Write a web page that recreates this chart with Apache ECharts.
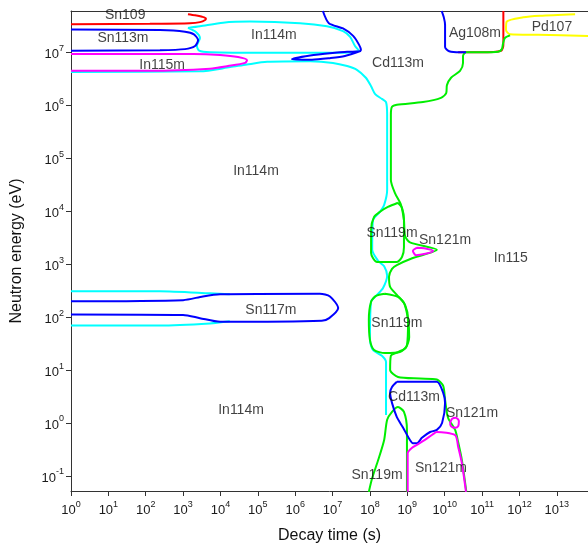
<!DOCTYPE html>
<html><head><meta charset="utf-8">
<script src="https://cdn.jsdelivr.net/npm/echarts@6/dist/echarts.min.js"></script>
<style>html,body{margin:0;padding:0;background:#fff}#c{width:588px;height:551px}</style>
</head><body><div id="c"></div>
<script>
// Every point: [log10(decay time / s), log10(neutron energy / eV)]
const xTickExp = [0,1,2,3,4,5,6,7,8,9,10,11,12,13];
const yTickExp = [-1,0,1,2,3,4,5,6,7];
const xRange = [0, 13.835];
const yRange = [-1.284, 7.78];

// ---- top band ----
const sn109Red = [[0,7.53],[2.11,7.54],[3.18,7.55],[3.45,7.57],[3.59,7.61],[3.61,7.64],[3.51,7.67],[3.32,7.70],[3.13,7.72]];
const sn113mBlue = [[0,7.43],[2.38,7.42],[3.05,7.39],[3.29,7.34],[3.40,7.23],[3.32,7.12],[3.05,7.06],[2.38,7.04],[0,7.03]];
const in115mMagenta = [[0,6.97],[3.27,6.97],[3.99,6.95],[4.47,6.91],[4.71,6.85],[4.66,6.80],[4.20,6.74],[3.72,6.69],[2.11,6.65],[0,6.65]];
const in114mUpperCyan = [[3.13,7.46],[3.45,7.49],[4.07,7.56],[4.79,7.58],[6.13,7.55],[6.85,7.49],[7.28,7.40],[7.47,7.29],[7.60,7.12],[7.71,7.03],[7.01,6.99],[5.25,6.99],[3.72,7.00],[3.43,7.03],[3.37,7.12],[3.45,7.27],[3.35,7.38],[3.13,7.46]];
const cd113mTopBlue = [[6.74,7.78],[6.90,7.55],[7.28,7.45],[7.55,7.31],[7.71,7.14],[7.76,7.04],[7.20,7.00],[6.40,6.94],[5.91,6.87],[6.45,6.86],[6.93,6.89],[7.33,6.93],[7.76,7.03]];
const in114mLowerCyan = [[0,6.63],[3.45,6.64],[4.26,6.72],[4.71,6.77],[5.25,6.82],[6.40,6.83],[7.01,6.80],[7.39,6.74],[7.65,6.67],[7.89,6.52],[8.03,6.36],[8.14,6.21],[8.32,6.12],[8.43,6.06],[8.46,5.82],[8.46,4.40],[8.38,4.12],[8.27,3.99],[8.08,3.83],[8.06,3.27],[8.22,3.06],[8.38,2.96],[8.46,2.78],[8.35,2.55],[8.19,2.42],[8.03,2.29],[8.00,1.57],[8.08,1.38],[8.32,1.27],[8.43,1.15],[8.43,0.15]];
const ag108mBlue = [[9.92,7.78],[9.98,7.65],[10.01,7.52],[10.01,7.10],[10.12,7.02],[10.41,7.00],[10.57,7.00]];
const ag108mRed = [[11.57,7.78],[11.57,7.14],[11.51,7.03],[10.95,7.00],[10.36,7.00]];
const pd107Yellow = [[13.49,7.72],[12.55,7.69],[12.10,7.66],[11.66,7.58],[11.64,7.42],[11.75,7.34],[12.50,7.33],[13.84,7.31]];

// ---- Sn117m ----
const sn117mBlue = [[0,2.30],[3.00,2.32],[3.53,2.39],[3.99,2.43],[6.66,2.44],[6.93,2.39],[7.15,2.17],[6.91,1.98],[6.71,1.93],[3.99,1.91],[3.45,1.98],[3.00,2.04],[0,2.05]];
const sn117mCyanTop = [[0,2.49],[2.38,2.49],[3.72,2.45],[4.25,2.43]];
const sn117mCyanBottom = [[0,1.84],[2.38,1.84],[3.72,1.88],[4.25,1.92]];

// ---- central green boundary (Sn119m / Sn121m) ----
const mainGreen = [[11.75,7.32],[11.61,7.27],[11.56,7.16],[11.53,7.06],[11.43,7.01],[10.95,7.00],[10.57,7.00],[10.49,6.93],[10.49,6.80],[10.41,6.65],[10.17,6.52],[10.06,6.38],[10.04,6.23],[9.90,6.14],[9.42,6.06],[8.72,6.01],[8.59,5.97],[8.56,5.82],[8.56,4.59],[8.67,4.34],[8.83,4.12],[8.91,3.83],[8.94,3.53],[9.07,3.41],[9.79,3.27],[9.13,3.11],[8.72,2.98],[8.59,2.91],[8.51,2.76],[8.54,2.57],[8.72,2.42],[8.91,2.27],[9.02,1.95],[9.05,1.62],[8.96,1.42],[8.75,1.34],[8.56,1.27],[8.54,1.00],[8.75,0.87],[9.34,0.84],[9.79,0.82],[9.96,0.70],[10.01,0.44],[10.09,0.10],[10.28,-0.13],[10.36,-0.36],[10.46,-0.70],[10.58,-1.30]];
const sn119mUpperGreen = [[8.75,4.16],[8.48,4.08],[8.27,3.99],[8.11,3.89],[8.03,3.65],[8.03,3.21],[8.19,3.04],[8.72,3.04],[8.86,3.14],[8.91,3.32],[8.91,3.83],[8.86,4.06],[8.75,4.16]];
const sn119mLowerGreen = [[8.40,2.44],[8.16,2.40],[8.03,2.29],[7.97,1.95],[8.00,1.57],[8.11,1.38],[8.40,1.32],[8.80,1.34],[8.99,1.47],[9.02,1.95],[8.94,2.23],[8.75,2.38],[8.40,2.44]];
const sn119mBottomGreen = [[7.97,-1.30],[8.06,-1.04],[8.22,-0.70],[8.38,-0.32],[8.46,0.06],[8.59,0.21],[8.75,0.30],[8.91,0.21],[8.99,-0.13],[8.99,-1.30]];

// ---- lower right ----
const cd113mLowerBlue = [[8.72,0.78],[9.79,0.78],[9.96,0.57],[10.01,0.38],[9.93,0.00],[9.79,-0.13],[9.61,-0.17],[9.39,-0.28],[9.26,-0.38],[9.15,-0.38],[9.07,-0.32],[8.88,-0.08],[8.72,0.11],[8.59,0.38],[8.54,0.57],[8.59,0.68],[8.72,0.78]];
const sn121mLowerMagenta = [[9.01,-1.30],[9.01,-0.57],[9.12,-0.47],[9.29,-0.40],[9.47,-0.32],[9.69,-0.21],[9.79,-0.17],[10.28,-0.23],[10.36,-0.45],[10.46,-0.76],[10.57,-1.30]];
const sn121mRingMagenta = [[10.14,0.00],[10.20,0.08],[10.30,0.10],[10.38,0.04],[10.36,-0.06],[10.28,-0.09],[10.17,-0.06],[10.14,0.00]];
const sn121mDropMagenta = [[9.26,3.31],[9.15,3.25],[9.23,3.17],[9.45,3.19],[9.69,3.25],[9.45,3.30],[9.26,3.31]];

// ---- region names [text, log10 t, log10 E] ----
const regionLabels = [
  ['Sn109',1.45,7.70],['Sn113m',1.39,7.27],['In114m',5.43,7.33],['In115m',2.44,6.76],
  ['Ag108m',10.81,7.36],['Pd107',12.87,7.48],['Cd113m',8.75,6.80],['In114m',4.95,4.76],
  ['Sn119m',8.59,3.59],['Sn121m',10.01,3.46],['In115',11.77,3.12],['Sn117m',5.35,2.13],
  ['Sn119m',8.72,1.89],['Cd113m',9.18,0.49],['Sn121m',10.73,0.19],['In114m',4.55,0.24],
  ['Sn119m',8.19,-0.99],['Sn121m',9.90,-0.86]
];

const RED='#ff0000', BLUE='#0000ff', CYAN='#00ffff', MAG='#ff00ff', GREEN='#00ee00', YEL='#ffff00';
const curves = [
  [in114mUpperCyan,CYAN],[in114mLowerCyan,CYAN],[sn117mCyanTop,CYAN],[sn117mCyanBottom,CYAN],
  [pd107Yellow,YEL],[sn109Red,RED],[ag108mRed,RED],
  [mainGreen,GREEN],[sn119mUpperGreen,GREEN],[sn119mLowerGreen,GREEN],[sn119mBottomGreen,GREEN],
  [sn113mBlue,BLUE],[cd113mTopBlue,BLUE],[ag108mBlue,BLUE],[sn117mBlue,BLUE],[cd113mLowerBlue,BLUE],
  [in115mMagenta,MAG],[sn121mLowerMagenta,MAG],[sn121mRingMagenta,MAG],[sn121mDropMagenta,MAG]
];

const FONT = "'Liberation Sans', Arial, sans-serif";
const supFmt = v => '{b|10}{s|' + v + '}';
const rich = {
  b:{fontSize:13, lineHeight:17, verticalAlign:'bottom', color:'#1a1a1a', fontFamily:FONT},
  s:{fontSize:9, lineHeight:11, verticalAlign:'top', color:'#1a1a1a', fontFamily:FONT}
};
const axisLineStyle = {color:'#333', width:1};

const series = curves.map((c,i) => ({
  type:'line', data:c[0], showSymbol:false, symbol:'none', smooth:0.25,
  lineStyle:{color:c[1], width:2}, silent:true, z:2+i*0.01
}));
series.push({
  type:'scatter', symbolSize:1, itemStyle:{color:'rgba(0,0,0,0)'}, silent:true, z:10,
  data: regionLabels.map(l => ({value:[l[1],l[2]], name:l[0]})),
  label:{show:true, position:'inside', formatter:'{b}', color:'#111', fontSize:14, fontFamily:FONT}
});

const chart = echarts.init(document.getElementById('c'));
chart.setOption({
  animation:false,
  backgroundColor:'#fff',
  grid:{left:71, right:0, top:11, bottom:60, containLabel:false},
  xAxis:[{
    type:'value', min:xRange[0], max:xRange[1], position:'bottom',
    axisLine:{show:true, onZero:false, lineStyle:axisLineStyle},
    axisTick:{show:true, inside:false, length:5, customValues:xTickExp, lineStyle:axisLineStyle},
    axisLabel:{customValues:xTickExp, margin:9, formatter:supFmt, rich:rich},
    splitLine:{show:false},
    name:'Decay time (s)', nameLocation:'middle', nameGap:37,
    nameTextStyle:{fontSize:16, color:'#111', fontFamily:FONT}
  },{
    type:'value', min:xRange[0], max:xRange[1], position:'top',
    axisLine:{show:true, onZero:false, lineStyle:axisLineStyle},
    axisTick:{show:false}, axisLabel:{show:false}, splitLine:{show:false}
  }],
  yAxis:{
    type:'value', min:yRange[0], max:yRange[1],
    axisLine:{show:true, onZero:false, lineStyle:axisLineStyle},
    axisTick:{show:true, inside:false, length:5, customValues:yTickExp, lineStyle:axisLineStyle},
    axisLabel:{customValues:yTickExp, margin:7, formatter:supFmt, rich:rich},
    splitLine:{show:false},
    name:'Neutron energy (eV)', nameLocation:'middle', nameGap:46,
    nameTextStyle:{fontSize:16, color:'#111', fontFamily:FONT}
  },
  series: series
});
</script></body></html>
